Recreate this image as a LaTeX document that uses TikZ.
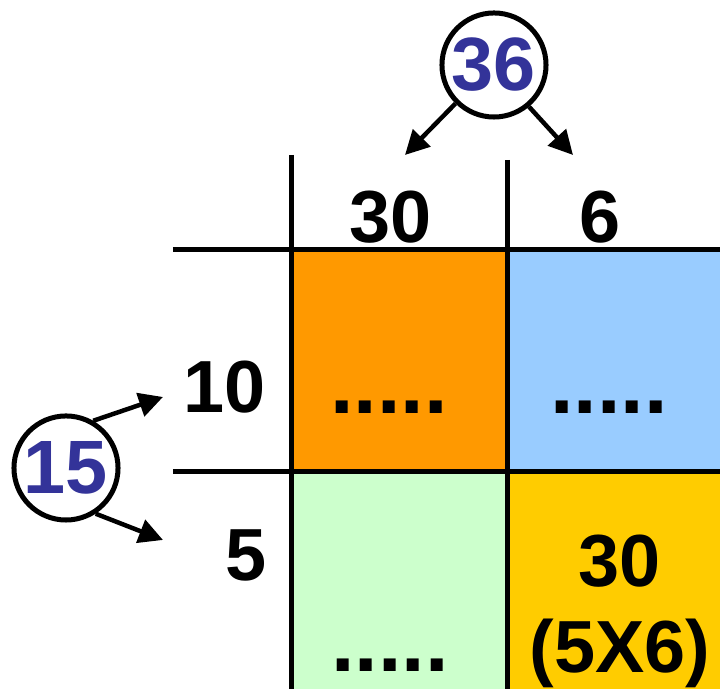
\documentclass[tikz,border=0pt]{standalone}
\usepackage{fontspec}
\setmainfont{Liberation Sans}
\definecolor{cellorange}{RGB}{255, 153, 0}
\definecolor{cellblue}{RGB}{153, 204, 255}
\definecolor{cellgreen}{RGB}{204, 255, 204}
\definecolor{cellyellow}{RGB}{255, 204, 0}
\definecolor{numblue}{RGB}{51, 51, 153}
\usetikzlibrary{arrows.meta}

\begin{document}
\begin{tikzpicture}[x=0.01cm, y=-0.01cm,
    gridline/.style={line width=0.05cm, black},
    splitnum/.style={circle, draw, line width=0.05cm, minimum size=1.04cm, inner sep=0pt,
      font=\fontsize{21.5}{25}\selectfont\bfseries, text=numblue},
    splitarrow/.style={line width=0.045cm, -{Triangle[length=0.24cm, width=0.24cm]}},
    partlabel/.style={font=\fontsize{21}{25}\selectfont\bfseries},
    blanks/.style={font=\fontsize{24}{28}\selectfont\bfseries}]
  \useasboundingbox (0, 0) rectangle (720, 689);

  % cells
  \fill[cellorange] (292, 250) rectangle (508, 472);
  \fill[cellblue] (508, 250) rectangle (720, 472);
  \fill[cellgreen] (292, 472) rectangle (508, 689);
  \fill[cellyellow] (508, 472) rectangle (720, 689);

  % grid
  \draw[gridline] (292, 155) -- (292, 689);
  \draw[gridline] (508, 160) -- (508, 689);
  \draw[gridline] (173, 250) -- (720, 250);
  \draw[gridline] (173, 472) -- (720, 472);

  % parts of the factors
  \node[partlabel] (tens) at (391, 217) {30};
  \node[partlabel] (ones) at (600, 217) {6};
  \node[partlabel] (rowtop) at (225, 387) {10};
  \node[partlabel] (rowbot) at (246, 555) {5};

  % products
  \node[blanks] (prodA) at (389, 407) {.....};
  \node[blanks] (prodB) at (609, 407) {.....};
  \node[blanks] (prodC) at (390, 665) {.....};
  \node[partlabel, align=center, font=\fontsize{21}{24.4}\selectfont\bfseries] (prodD) at (620, 611) {30\\(5X6)};

  % split circles
  \node[splitnum] (top) at (494, 65) {36};
  \node[splitnum] (left) at (66, 468) {15};
  \coordinate (topL) at (405, 155);
  \coordinate (topR) at (573, 155);
  \coordinate (leftU) at (163, 397);
  \coordinate (leftD) at (163, 540);
  \draw[splitarrow] (top.225) -- (topL);
  \draw[splitarrow] (top.-50) -- (topR);
  \draw[splitarrow] (left.60) -- (leftU);
  \draw[splitarrow] (left.-57) -- (leftD);
\end{tikzpicture}
\end{document}
